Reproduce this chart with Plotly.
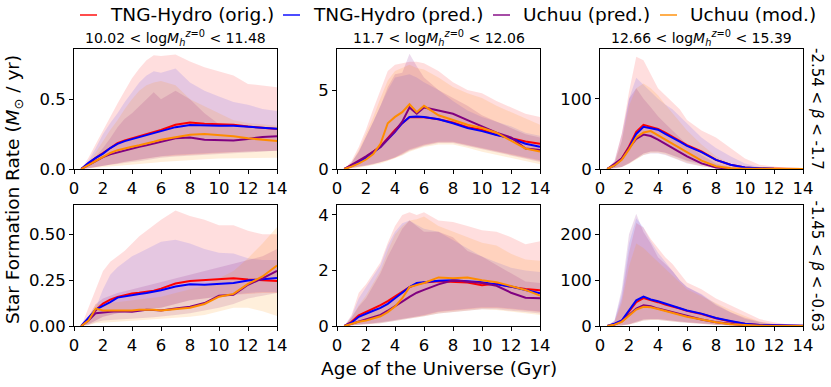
import plotly.graph_objects as go

# Age of the Universe (Gyr) sample points
t = [0.5, 1, 1.5, 2, 2.5, 3, 3.5, 4, 4.5, 5, 5.5, 6, 7, 8, 9, 10, 11, 12, 13, 14]

mass_bins = ["10.02", "11.48"], ["11.7", "12.06"], ["12.66", "15.39"]
beta_bins = ["-2.54", "-1.7"], ["-1.45", "-0.63"]

# ---- top row, low mass ----
a1_red_mid = [0.0, 0.043, 0.08, 0.114, 0.15, 0.186, 0.205, 0.22, 0.232, 0.245, 0.262, 0.28, 0.317, 0.333, 0.324, 0.32, 0.317, 0.305, 0.298, 0.286]
a1_red_lo = [0.0, 0.005, 0.012, 0.02, 0.03, 0.04, 0.05, 0.06, 0.068, 0.075, 0.082, 0.09, 0.1, 0.105, 0.11, 0.115, 0.12, 0.125, 0.13, 0.13]
a1_red_hi = [0.0, 0.08, 0.18, 0.28, 0.38, 0.47, 0.56, 0.65, 0.72, 0.78, 0.815, 0.81, 0.82, 0.77, 0.73, 0.70, 0.67, 0.61, 0.60, 0.585]
a1_blue_mid = [0.0, 0.045, 0.08, 0.11, 0.15, 0.18, 0.2, 0.215, 0.225, 0.24, 0.255, 0.27, 0.3, 0.315, 0.31, 0.31, 0.31, 0.303, 0.295, 0.288]
a1_blue_lo = [0.0, 0.006, 0.014, 0.022, 0.032, 0.042, 0.052, 0.062, 0.07, 0.078, 0.085, 0.092, 0.102, 0.108, 0.113, 0.118, 0.122, 0.126, 0.128, 0.13]
a1_blue_hi = [0.0, 0.06, 0.15, 0.25, 0.33, 0.4, 0.48, 0.55, 0.62, 0.67, 0.70, 0.69, 0.72, 0.62, 0.56, 0.52, 0.48, 0.46, 0.43, 0.415]
a1_purple_mid = [0.0, 0.03, 0.06, 0.085, 0.105, 0.12, 0.135, 0.15, 0.16, 0.17, 0.18, 0.195, 0.22, 0.225, 0.21, 0.205, 0.205, 0.215, 0.23, 0.235]
a1_purple_lo = [0.0, 0.005, 0.01, 0.02, 0.03, 0.035, 0.04, 0.05, 0.055, 0.06, 0.07, 0.08, 0.09, 0.1, 0.105, 0.11, 0.115, 0.12, 0.125, 0.13]
a1_purple_hi = [0.0, 0.04, 0.09, 0.15, 0.22, 0.3, 0.36, 0.4, 0.45, 0.5, 0.55, 0.5, 0.56, 0.5, 0.4, 0.32, 0.3, 0.3, 0.3, 0.3]
a1_orange_mid = [0.0, 0.03, 0.06, 0.09, 0.115, 0.135, 0.15, 0.16, 0.17, 0.18, 0.195, 0.21, 0.23, 0.245, 0.25, 0.245, 0.235, 0.22, 0.21, 0.2]
a1_orange_lo = [0.0, 0.002, 0.005, 0.01, 0.015, 0.02, 0.025, 0.03, 0.035, 0.04, 0.045, 0.05, 0.06, 0.065, 0.07, 0.075, 0.08, 0.08, 0.08, 0.08]
a1_orange_hi = [0.0, 0.05, 0.12, 0.2, 0.28, 0.35, 0.43, 0.5, 0.56, 0.6, 0.62, 0.63, 0.6, 0.5, 0.45, 0.4, 0.35, 0.33, 0.32, 0.31]

# ---- top row, mid mass ----
a2_red_mid = [0.0, 0.2, 0.45, 0.75, 1.08, 1.43, 1.95, 2.48, 2.9, 3.28, 3.3, 3.28, 3.15, 2.94, 2.65, 2.48, 2.16, 1.95, 1.74, 1.6]
a2_red_lo = [0.0, 0.05, 0.12, 0.2, 0.3, 0.4, 0.55, 0.7, 0.95, 1.2, 1.35, 1.5, 1.7, 1.7, 1.5, 1.3, 1.1, 0.9, 0.7, 0.5]
a2_red_hi = [0.0, 0.5, 1.4, 2.5, 3.8, 5.0, 6.2, 6.6, 6.7, 6.8, 6.8, 6.7, 6.2, 5.5, 5.0, 4.8, 4.3, 3.9, 3.5, 3.3]
a2_blue_mid = [0.0, 0.18, 0.42, 0.72, 1.05, 1.4, 1.85, 2.35, 2.9, 3.3, 3.32, 3.3, 3.15, 2.9, 2.6, 2.4, 2.15, 1.95, 1.6, 1.4]
a2_blue_lo = [0.0, 0.05, 0.12, 0.2, 0.3, 0.42, 0.58, 0.75, 1.0, 1.25, 1.4, 1.55, 1.72, 1.72, 1.55, 1.35, 1.15, 0.95, 0.75, 0.55]
a2_blue_hi = [0.0, 0.4, 1.1, 2.0, 3.0, 4.0, 5.0, 5.8, 5.9, 6.0, 5.8, 5.5, 5.0, 4.3, 3.7, 3.3, 3.0, 2.7, 2.3, 2.1]
a2_purple_mid = [0.0, 0.25, 0.5, 0.8, 1.1, 1.4, 1.9, 2.4, 3.0, 3.9, 3.5, 3.9, 3.7, 3.5, 3.1, 2.7, 2.3, 2.0, 1.3, 1.2]
a2_purple_lo = [0.0, 0.06, 0.14, 0.22, 0.32, 0.42, 0.55, 0.7, 0.9, 1.15, 1.3, 1.45, 1.65, 1.65, 1.45, 1.25, 1.05, 0.85, 0.65, 0.45]
a2_purple_hi = [0.0, 0.4, 1.1, 2.0, 3.0, 4.0, 5.2, 6.0, 6.1, 7.3, 6.5, 5.8, 5.0, 4.5, 4.0, 3.4, 3.0, 2.6, 2.2, 2.0]
a2_orange_mid = [0.0, 0.15, 0.35, 0.6, 0.95, 1.6, 2.9, 3.3, 3.6, 4.1, 3.6, 4.0, 3.4, 3.1, 2.8, 2.6, 2.3, 1.8, 1.3, 1.1]
a2_orange_lo = [0.0, 0.03, 0.08, 0.15, 0.25, 0.35, 0.5, 0.65, 0.85, 1.1, 1.25, 1.4, 1.55, 1.55, 1.35, 1.1, 0.9, 0.7, 0.5, 0.3]
a2_orange_hi = [0.0, 0.4, 1.2, 2.2, 3.3, 4.5, 5.6, 6.2, 6.4, 6.6, 6.4, 6.3, 5.8, 5.2, 4.8, 4.5, 4.0, 3.6, 3.2, 2.8]

# ---- top row, high mass ----
a3_red_mid = [0.0, 6, 15, 32, 53, 63, 60, 57, 52, 46, 40, 34, 25, 13, 6, 2, 0.8, 0.3, 0.15, 0.1]
a3_red_lo = [0.0, 1, 3, 8, 15, 22, 25, 25, 23, 20, 16, 12, 7, 3, 1, 0.3, 0.1, 0.05, 0.02, 0.0]
a3_red_hi = [0.0, 10, 50, 110, 160, 155, 135, 115, 105, 95, 85, 70, 55, 45, 30, 15, 6, 3, 1, 0.5]
a3_blue_mid = [0.0, 5, 14, 30, 50, 60, 58, 56, 50, 45, 39, 33, 24, 13, 6, 2, 0.7, 0.3, 0.1, 0.05]
a3_blue_lo = [0.0, 1, 3, 8, 15, 22, 25, 25, 23, 19, 15, 11, 6, 3, 1, 0.3, 0.1, 0.05, 0.02, 0.0]
a3_blue_hi = [0.0, 8, 40, 100, 130, 120, 110, 100, 92, 85, 75, 65, 45, 30, 18, 8, 3, 1, 0.5, 0.2]
a3_purple_mid = [0.0, 7, 15, 30, 43, 49, 47, 42, 36, 30, 24, 18, 8, 2, 0.5, 0.1, 0.05, 0.0, 0.0, 0.0]
a3_purple_lo = [0.0, 1, 3, 8, 14, 20, 22, 22, 20, 16, 12, 8, 4, 1, 0.3, 0.1, 0.0, 0.0, 0.0, 0.0]
a3_purple_hi = [0.0, 12, 50, 100, 115, 100, 88, 75, 65, 55, 45, 35, 20, 8, 3, 1, 0.3, 0.1, 0.0, 0.0]
a3_orange_mid = [0.0, 5, 13, 28, 45, 52, 54, 48, 42, 36, 30, 24, 12, 4, 1, 0.3, 0.1, 0.0, 0.0, 0.0]
a3_orange_lo = [0.0, 1, 3, 7, 13, 20, 23, 23, 21, 17, 13, 9, 4, 1, 0.3, 0.1, 0.0, 0.0, 0.0, 0.0]
a3_orange_hi = [0.0, 8, 40, 90, 115, 122, 115, 105, 92, 80, 68, 55, 35, 18, 7, 2, 0.5, 0.1, 0.0, 0.0]

# ---- bottom row, low mass ----
b1_red_mid = [0.0, 0.04, 0.086, 0.122, 0.144, 0.159, 0.168, 0.177, 0.181, 0.186, 0.193, 0.204, 0.232, 0.245, 0.25, 0.254, 0.26, 0.254, 0.25, 0.246]
b1_red_lo = [0.0, 0.01, 0.03, 0.05, 0.06, 0.07, 0.075, 0.08, 0.085, 0.09, 0.095, 0.1, 0.12, 0.14, 0.15, 0.16, 0.17, 0.175, 0.18, 0.18]
b1_red_hi = [0.0, 0.1, 0.2, 0.3, 0.35, 0.38, 0.41, 0.45, 0.49, 0.52, 0.55, 0.58, 0.63, 0.6, 0.58, 0.55, 0.55, 0.52, 0.5, 0.5]
b1_blue_mid = [0.0, 0.045, 0.09, 0.11, 0.13, 0.155, 0.163, 0.17, 0.175, 0.18, 0.187, 0.195, 0.215, 0.228, 0.225, 0.23, 0.235, 0.248, 0.255, 0.262]
b1_blue_lo = [0.0, 0.01, 0.03, 0.05, 0.06, 0.07, 0.075, 0.08, 0.085, 0.09, 0.095, 0.1, 0.12, 0.14, 0.15, 0.16, 0.17, 0.18, 0.185, 0.185]
b1_blue_hi = [0.0, 0.05, 0.1, 0.2, 0.28, 0.32, 0.35, 0.38, 0.4, 0.42, 0.44, 0.46, 0.47, 0.45, 0.42, 0.4, 0.395, 0.37, 0.36, 0.36]
b1_purple_mid = [0.0, 0.03, 0.07, 0.075, 0.078, 0.08, 0.079, 0.078, 0.083, 0.088, 0.087, 0.085, 0.095, 0.105, 0.125, 0.165, 0.17, 0.225, 0.26, 0.3]
b1_purple_lo = [0.0, 0.005, 0.02, 0.03, 0.033, 0.035, 0.038, 0.04, 0.043, 0.045, 0.048, 0.05, 0.06, 0.07, 0.085, 0.1, 0.12, 0.15, 0.165, 0.18]
b1_purple_hi = [0.0, 0.05, 0.12, 0.15, 0.165, 0.18, 0.19, 0.2, 0.21, 0.22, 0.23, 0.24, 0.26, 0.28, 0.3, 0.32, 0.34, 0.36, 0.38, 0.42]
b1_orange_mid = [0.0, 0.03, 0.095, 0.085, 0.085, 0.085, 0.082, 0.085, 0.088, 0.09, 0.088, 0.085, 0.092, 0.1, 0.12, 0.16, 0.175, 0.23, 0.27, 0.33]
b1_orange_lo = [0.0, 0.005, 0.015, 0.02, 0.022, 0.025, 0.028, 0.03, 0.033, 0.035, 0.038, 0.04, 0.045, 0.05, 0.06, 0.08, 0.1, 0.1, 0.08, 0.055]
b1_orange_hi = [0.0, 0.05, 0.12, 0.12, 0.125, 0.13, 0.135, 0.14, 0.145, 0.15, 0.155, 0.16, 0.18, 0.2, 0.22, 0.26, 0.3, 0.37, 0.45, 0.54]

# ---- bottom row, mid mass ----
b2_red_mid = [0.0, 0.15, 0.38, 0.5, 0.62, 0.75, 0.9, 1.07, 1.23, 1.4, 1.5, 1.57, 1.61, 1.59, 1.57, 1.47, 1.53, 1.41, 1.33, 1.29]
b2_red_lo = [0.0, 0.02, 0.05, 0.08, 0.1, 0.13, 0.16, 0.2, 0.25, 0.3, 0.34, 0.38, 0.5, 0.55, 0.6, 0.65, 0.65, 0.6, 0.55, 0.5]
b2_red_hi = [0.0, 0.4, 1.2, 1.5, 1.9, 2.3, 3.0, 3.6, 4.0, 4.1, 4.0, 4.1, 3.8, 3.75, 3.6, 3.45, 3.4, 3.2, 2.95, 3.05]
b2_blue_mid = [0.0, 0.12, 0.33, 0.45, 0.55, 0.65, 0.8, 1.0, 1.2, 1.4, 1.55, 1.58, 1.63, 1.65, 1.62, 1.58, 1.5, 1.42, 1.3, 1.18]
b2_blue_lo = [0.0, 0.02, 0.05, 0.08, 0.1, 0.13, 0.16, 0.2, 0.25, 0.3, 0.34, 0.4, 0.52, 0.58, 0.63, 0.68, 0.68, 0.63, 0.58, 0.52]
b2_blue_hi = [0.0, 0.35, 1.0, 1.4, 1.8, 2.2, 2.9, 3.4, 3.7, 3.8, 3.65, 3.5, 3.4, 3.1, 2.8, 2.5, 2.3, 2.1, 2.0, 1.95]
b2_purple_mid = [0.0, 0.08, 0.18, 0.25, 0.32, 0.4, 0.55, 0.7, 0.88, 1.05, 1.2, 1.3, 1.5, 1.65, 1.6, 1.55, 1.45, 1.2, 1.02, 1.0]
b2_purple_lo = [0.0, 0.02, 0.04, 0.06, 0.08, 0.1, 0.13, 0.17, 0.22, 0.27, 0.31, 0.35, 0.45, 0.5, 0.55, 0.6, 0.6, 0.55, 0.5, 0.45]
b2_purple_hi = [0.0, 0.3, 0.7, 1.0, 1.45, 1.9, 2.5, 3.0, 3.5, 3.8, 3.6, 3.4, 3.4, 3.2, 2.7, 2.5, 2.2, 1.9, 1.6, 1.55]
b2_orange_mid = [0.0, 0.08, 0.15, 0.2, 0.27, 0.35, 0.5, 0.7, 1.0, 1.4, 1.48, 1.55, 1.75, 1.72, 1.75, 1.65, 1.58, 1.45, 1.3, 1.1]
b2_orange_lo = [0.0, 0.02, 0.04, 0.06, 0.08, 0.1, 0.13, 0.17, 0.22, 0.27, 0.31, 0.35, 0.45, 0.5, 0.55, 0.6, 0.58, 0.52, 0.46, 0.4]
b2_orange_hi = [0.0, 0.3, 0.75, 1.1, 1.55, 2.0, 2.7, 3.3, 3.6, 3.8, 3.85, 3.95, 3.6, 3.4, 3.2, 3.0, 2.9, 2.6, 2.4, 2.35]

# ---- bottom row, high mass ----
b3_red_mid = [0.0, 4, 11, 32, 52, 61, 57, 52, 47, 43, 38, 33, 26, 17, 10, 5, 2, 1, 0.5, 0.3]
b3_red_lo = [0.0, 0.5, 1.5, 4, 9, 14, 15, 15, 14, 12, 10, 8, 5, 3, 1, 0.5, 0.2, 0.1, 0.0, 0.0]
b3_red_hi = [0.0, 10, 60, 160, 225, 215, 190, 170, 150, 135, 115, 95, 80, 60, 45, 30, 15, 8, 3, 1]
b3_blue_mid = [0.0, 5, 12, 34, 56, 64, 58, 54, 49, 45, 40, 34, 27, 17.5, 11, 5, 2, 1, 0.5, 0.3]
b3_blue_lo = [0.0, 0.5, 1.5, 4, 9, 14, 15, 15, 14, 12, 10, 8, 5, 3, 1, 0.5, 0.2, 0.1, 0.0, 0.0]
b3_blue_hi = [0.0, 12, 70, 180, 235, 215, 185, 160, 140, 120, 100, 85, 70, 48, 30, 16, 8, 3, 1, 0.5]
b3_purple_mid = [0.0, 3, 10, 24, 38, 45, 43, 38, 34, 30, 25, 21, 14, 8, 4, 1.5, 0.5, 0.2, 0.1, 0.0]
b3_purple_lo = [0.0, 0.3, 1, 3, 7, 12, 13, 13, 12, 10, 8, 6, 4, 2, 1, 0.3, 0.1, 0.0, 0.0, 0.0]
b3_purple_hi = [0.0, 12, 80, 200, 245, 205, 180, 150, 135, 120, 100, 85, 68, 45, 30, 18, 9, 4, 2, 1]
b3_orange_mid = [0.0, 3, 9, 22, 36, 42, 41, 37, 33, 29, 24, 20, 14, 8, 4, 1.5, 0.5, 0.2, 0.1, 0.0]
b3_orange_lo = [0.0, 0.3, 1, 3, 7, 12, 13, 13, 12, 10, 8, 6, 4, 2, 1, 0.3, 0.1, 0.0, 0.0, 0.0]
b3_orange_hi = [0.0, 8, 50, 130, 180, 170, 155, 140, 125, 110, 95, 80, 65, 50, 35, 22, 10, 5, 2, 1]

series_names = ["TNG-Hydro (orig.)", "TNG-Hydro (pred.)", "Uchuu (pred.)", "Uchuu (mod.)"]
line_colors = ["#ff0000", "#0000ff", "#800080", "#ff8c00"]
fill_colors = ["rgba(255,0,0,0.13)", "rgba(0,0,255,0.10)", "rgba(128,0,128,0.14)", "rgba(255,140,0,0.14)"]
legend_colors = ["rgba(255,0,0,0.7)", "rgba(0,0,255,0.7)", "rgba(128,0,128,0.7)", "rgba(255,140,0,0.7)"]

panels = [
    [(a1_red_mid, a1_red_lo, a1_red_hi), (a1_blue_mid, a1_blue_lo, a1_blue_hi),
     (a1_purple_mid, a1_purple_lo, a1_purple_hi), (a1_orange_mid, a1_orange_lo, a1_orange_hi)],
    [(a2_red_mid, a2_red_lo, a2_red_hi), (a2_blue_mid, a2_blue_lo, a2_blue_hi),
     (a2_purple_mid, a2_purple_lo, a2_purple_hi), (a2_orange_mid, a2_orange_lo, a2_orange_hi)],
    [(a3_red_mid, a3_red_lo, a3_red_hi), (a3_blue_mid, a3_blue_lo, a3_blue_hi),
     (a3_purple_mid, a3_purple_lo, a3_purple_hi), (a3_orange_mid, a3_orange_lo, a3_orange_hi)],
    [(b1_red_mid, b1_red_lo, b1_red_hi), (b1_blue_mid, b1_blue_lo, b1_blue_hi),
     (b1_purple_mid, b1_purple_lo, b1_purple_hi), (b1_orange_mid, b1_orange_lo, b1_orange_hi)],
    [(b2_red_mid, b2_red_lo, b2_red_hi), (b2_blue_mid, b2_blue_lo, b2_blue_hi),
     (b2_purple_mid, b2_purple_lo, b2_purple_hi), (b2_orange_mid, b2_orange_lo, b2_orange_hi)],
    [(b3_red_mid, b3_red_lo, b3_red_hi), (b3_blue_mid, b3_blue_lo, b3_blue_hi),
     (b3_purple_mid, b3_purple_lo, b3_purple_hi), (b3_orange_mid, b3_orange_lo, b3_orange_hi)],
]

# axis settings per panel: y max, tick step, tick format
y_max = [0.86, 7.6, 171, 0.66, 4.36, 264]
y_dtick = [0.5, 5, 100, 0.25, 2, 100]
y_fmt = [".1f", "d", "d", ".2f", "d", "d"]

W, H = 831, 387
FONT = "DejaVu Sans"
col_px = [(74, 277), (337, 540), (600, 803)]
row_px = [(49, 169), (205, 326)]

fig = go.Figure()

for i, panel in enumerate(panels):
    r, c = divmod(i, 3)
    ax = "" if i == 0 else str(i + 1)
    xref, yref = "x" + ax, "y" + ax
    # shaded percentile bands
    for k, (mid, lo, hi) in enumerate(panel):
        fig.add_trace(go.Scatter(
            x=t + t[::-1], y=hi + lo[::-1], xaxis=xref, yaxis=yref,
            mode="lines", line=dict(width=0), fill="toself",
            fillcolor=fill_colors[k], showlegend=False, hoverinfo="skip"))
    # median lines
    for k, (mid, lo, hi) in enumerate(panel):
        fig.add_trace(go.Scatter(
            x=t, y=mid, xaxis=xref, yaxis=yref, mode="lines",
            line=dict(color=line_colors[k], width=2),
            name=series_names[k], showlegend=False))

    x0, x1 = col_px[c]
    y0, y1 = row_px[r]
    axis_common = dict(showline=True, linecolor="black", linewidth=1, mirror=True,
                       ticks="outside", ticklen=4, tickcolor="black", showgrid=False,
                       zeroline=False, automargin=False,
                       tickfont=dict(family=FONT, size=16.5, color="black"))
    fig.layout["xaxis" + ax] = dict(
        domain=[x0 / W, x1 / W], anchor=yref, range=[0, 14],
        tickmode="linear", tick0=0, dtick=2, **axis_common)
    fig.layout["yaxis" + ax] = dict(
        domain=[1 - y1 / H, 1 - y0 / H], anchor=xref, range=[0, y_max[i]],
        tickmode="linear", tick0=0, dtick=y_dtick[i], tickformat=y_fmt[i], **axis_common)

annotations = []
shapes = []
# legend drawn as short line + label, like the matplotlib legend above the panels
legend_x = [80, 283, 493, 660]
for k in range(4):
    shapes.append(dict(type="line", xref="paper", yref="paper",
                       x0=legend_x[k] / W, x1=(legend_x[k] + 17) / W,
                       y0=1 - 15 / H, y1=1 - 15 / H,
                       line=dict(color=legend_colors[k], width=2)))
    annotations.append(dict(
        text=series_names[k], x=(legend_x[k] + 28) / W, y=1 - 15 / H,
        xref="paper", yref="paper", xanchor="left", yanchor="middle",
        showarrow=False, font=dict(family=FONT, size=18.5, color="black")))

for c, (lo_m, hi_m) in enumerate(mass_bins):
    x0, x1 = col_px[c]
    annotations.append(dict(
        text=f"{lo_m} &lt; log<i>M</i><sub><i>h</i></sub><sup><i>z</i>=0</sup> &lt; {hi_m}",
        x=(x0 + x1) / 2 / W, y=1 - 38 / H, xref="paper", yref="paper",
        xanchor="center", yanchor="middle",
        showarrow=False, font=dict(family=FONT, size=14, color="black")))
for r, (lo_b, hi_b) in enumerate(beta_bins):
    y0, y1 = row_px[r]
    annotations.append(dict(
        text=f"{lo_b} &lt; <i>β</i> &lt; {hi_b}", textangle=90,
        x=817 / W, y=1 - (y0 + y1) / 2 / H, xref="paper", yref="paper",
        xanchor="center", yanchor="middle",
        showarrow=False, font=dict(family=FONT, size=15, color="black")))
annotations.append(dict(
    text="Star Formation Rate (<i>M</i><sub>⊙</sub> / yr)", textangle=-90,
    x=14 / W, y=1 - 190 / H, xref="paper", yref="paper",
    xanchor="center", yanchor="middle",
    showarrow=False, font=dict(family=FONT, size=18.5, color="black")))
annotations.append(dict(
    text="Age of the Universe (Gyr)",
    x=439 / W, y=1 - 368 / H, xref="paper", yref="paper",
    xanchor="center", yanchor="middle",
    showarrow=False, font=dict(family=FONT, size=18.5, color="black")))

fig.update_layout(
    width=W, height=H,
    margin=dict(l=0, r=0, t=0, b=0),
    paper_bgcolor="white", plot_bgcolor="white",
    font=dict(family=FONT, color="black"),
    showlegend=False,
    annotations=annotations,
    shapes=shapes,
)

# drop the browser's default 8px body margin so the figure sits at the page corner
fig.write_html("out.html", config={"displayModeBar": False},
               post_script="document.body.style.margin = '0';")
